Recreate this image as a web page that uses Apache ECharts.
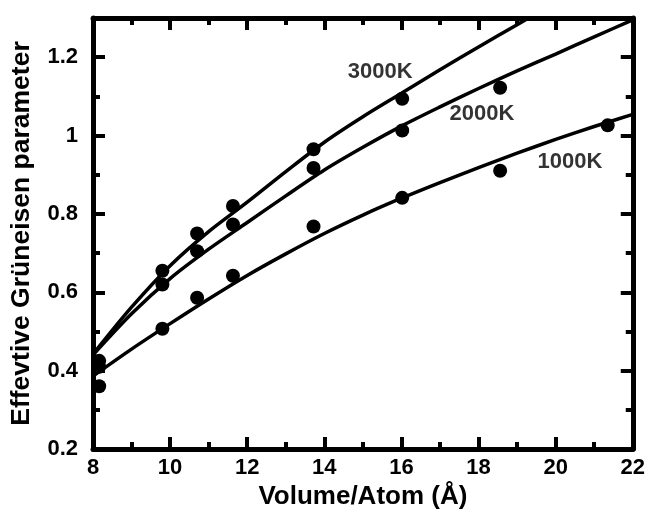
<!DOCTYPE html>
<html>
<head>
<meta charset="utf-8">
<script src="https://cdn.jsdelivr.net/npm/echarts@6/dist/echarts.min.js"></script>
<style>
  html, body { margin: 0; padding: 0; background: #fff; }
  #chart { width: 648px; height: 515px; }
</style>
</head>
<body>
<div id="chart"></div>
<script>
// measured points (volume per atom, gamma)
var pts3000 = [[8.16, 0.425], [9.8, 0.655], [10.7, 0.75], [11.63, 0.82], [13.72, 0.965], [16.02, 1.094]];
var pts2000 = [[8.16, 0.41], [9.8, 0.62], [10.7, 0.705], [11.63, 0.773], [13.72, 0.917], [16.02, 1.013], [18.56, 1.122]];
var pts1000 = [[8.16, 0.36], [9.8, 0.507], [10.7, 0.586], [11.63, 0.642], [13.72, 0.768], [16.02, 0.841], [18.56, 0.91], [21.35, 1.026]];

// fitted curves at each unit of volume
var fitX = [8, 9, 10, 11, 12, 13, 14, 15, 16, 17, 18, 19, 20, 21, 22];
var fit3000 = [0.442, 0.562, 0.668, 0.755, 0.83, 0.908, 0.983, 1.048, 1.108, 1.168, 1.226, 1.283, 1.34];
var fit2000 = [0.44, 0.545, 0.635, 0.71, 0.778, 0.846, 0.912, 0.97, 1.024, 1.073, 1.12, 1.165, 1.208, 1.252, 1.295];
var fit1000 = [0.386, 0.455, 0.52, 0.583, 0.643, 0.698, 0.75, 0.797, 0.84, 0.88, 0.918, 0.955, 0.99, 1.023, 1.054];

var curveNames = ['3000K', '2000K', '1000K'];
var labelSpots = [[15.45, 1.162], [18.09, 1.056], [20.37, 0.932]];

var font = "'Liberation Sans', Arial, sans-serif";
var chart = echarts.init(document.getElementById('chart'));

function xAx(pos, show) {
  return {
    type: 'value', position: pos, min: 8, max: 22, interval: 2,
    axisLine: { show: true, onZero: false, lineStyle: { color: '#000', width: 5 } },
    axisTick: { show: true, inside: true, length: 12, lineStyle: { color: '#000', width: 4 } },
    minorTick: { show: true, splitNumber: 2, length: 7, lineStyle: { color: '#000', width: 4 } },
    axisLabel: { show: show, color: '#000', fontFamily: font, fontWeight: 'bold', fontSize: 22, margin: 8 },
    splitLine: { show: false },
    name: show ? 'Volume/Atom (Å)' : '', nameLocation: 'middle', nameGap: 35,
    nameTextStyle: { color: '#000', fontFamily: font, fontWeight: 'bold', fontSize: 26 }
  };
}
function yAx(pos, step, len, show, line) {
  return {
    type: 'value', position: pos, min: 0.2, max: 1.3, interval: step,
    axisLine: { show: line, onZero: false, lineStyle: { color: '#000', width: 5 } },
    axisTick: { show: true, inside: true, length: len, lineStyle: { color: '#000', width: 4 } },
    axisLabel: { show: show, showMaxLabel: false, color: '#000', fontFamily: font, fontWeight: 'bold', fontSize: 22, margin: 15,
      formatter: function (v) { return String(Math.round(v * 10) / 10); } },
    splitLine: { show: false },
    name: show ? 'Effevtive Grüneisen parameter' : '', nameLocation: 'middle', nameGap: 58, nameRotate: 90,
    nameTextStyle: { color: '#000', fontFamily: font, fontWeight: 'bold', fontSize: 26.5 }
  };
}

function fitSeries(ys) {
  var d = ys.map(function (y, i) { return [fitX[i], y]; });
  return { type: 'line', data: d, smooth: 0.3, symbol: 'none', clip: true,
    lineStyle: { color: '#000', width: 3.5 }, z: 3 };
}
function dotSeries(d) {
  return { type: 'scatter', data: d, symbol: 'circle', symbolSize: 14,
    itemStyle: { color: '#000', opacity: 1 }, z: 4 };
}

var series = [fitSeries(fit3000), fitSeries(fit2000), fitSeries(fit1000),
  dotSeries(pts3000), dotSeries(pts2000), dotSeries(pts1000)];
series.push({
  type: 'scatter', symbolSize: 0, silent: true,
  data: labelSpots.map(function (p, i) { return { value: p, name: curveNames[i] }; }),
  label: { show: true, position: 'inside', formatter: '{b}', color: '#000',
    fontFamily: font, fontWeight: 'bold', fontSize: 22 }
});

chart.setOption({
  backgroundColor: '#fff',
  animation: false,
  grid: { left: 92.5, right: 13.5, top: 18, bottom: 62, containLabel: false },
  xAxis: [xAx('bottom', true), xAx('top', false)],
  yAxis: [yAx('left', 0.2, 12, true, true), yAx('left', 0.1, 7, false, false),
          yAx('right', 0.2, 12, false, true), yAx('right', 0.1, 7, false, false)],
  series: series
});
</script>
</body>
</html>
